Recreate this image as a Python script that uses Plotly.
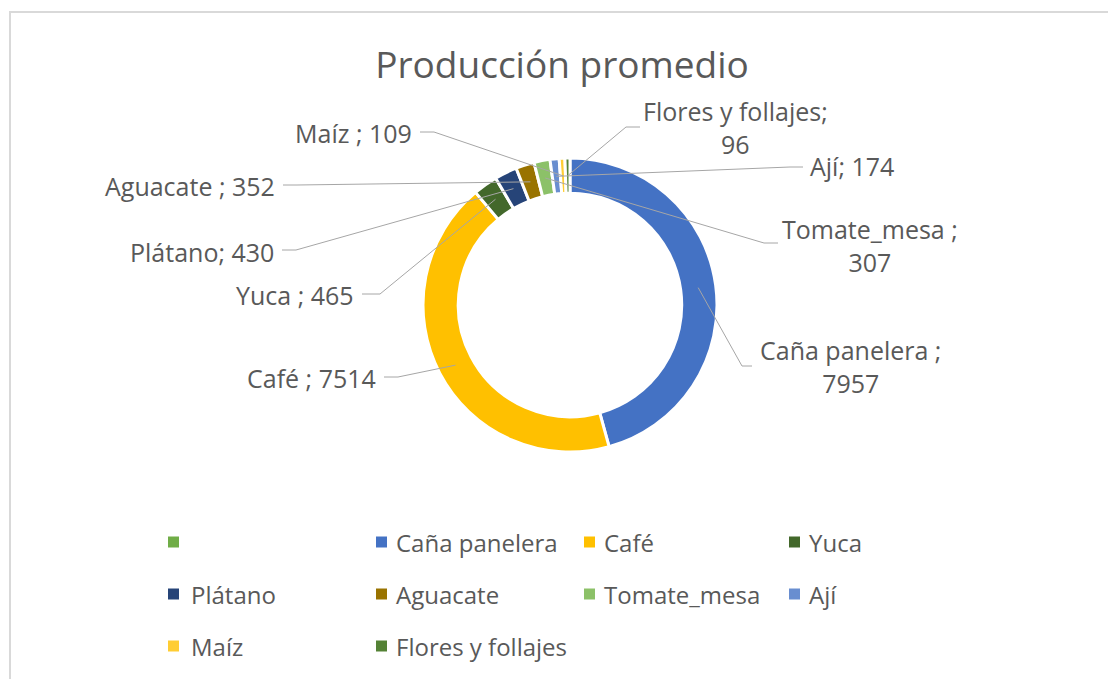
import math
import plotly.graph_objects as go

categories = ["\u00a0", "Caña panelera ", "Café ", "Yuca ", "Plátano", "Aguacate ",
              "Tomate_mesa ", "Ají", "Maíz ", "Flores y follajes"]
values = [0, 7957, 7514, 465, 430, 352, 307, 174, 109, 96]
colors = ["#70AD47", "#4472C4", "#FFC000", "#43682B", "#264478", "#997300",
          "#8CC168", "#698ED0", "#FFCD33", "#548235"]

W, H = 1116, 679
OFF = 8  # default body margin of the html page
FONT = "Open Sans"
GREY = "#595959"


def px(x):
    return (x - OFF) / W


def py(y):
    return 1 - (y - OFF) / H


# donut geometry in (screen) pixels
CX, CY, R_OUT, HOLE = 570, 305, 147, 0.76
R_MID = R_OUT * (1 + HOLE) / 2

# where each data label sits: text x, y, anchor, wrapped?, leader start + elbow
label_layout = {
    1: (850, 366, "center", True, [(752, 366), (742, 366)]),
    2: (378, 378, "right", False, [(384, 377), (398, 377)]),
    3: (356, 295, "right", False, [(362, 294), (380, 294)]),
    4: (276, 252, "right", False, [(282, 250), (296, 250)]),
    5: (277, 186, "right", False, [(283, 185), (297, 185)]),
    6: (870, 245, "center", True, [(778, 243), (764, 243)]),
    7: (808, 166, "left", False, [(803, 167), (790, 167)]),
    8: (414, 133, "right", False, [(420, 132), (434, 132)]),
    9: (735, 127, "center", True, [(640, 127), (626, 127)]),
}

fig = go.Figure()
fig.add_trace(go.Pie(
    labels=categories, values=values, hole=HOLE, sort=False,
    direction="clockwise", rotation=0, textinfo="none", hoverinfo="none",
    marker=dict(colors=colors, line=dict(color="white", width=3)),
    domain=dict(x=[px(CX - R_OUT), px(CX + R_OUT)], y=[py(CY + R_OUT), py(CY - R_OUT)]),
    showlegend=False,
))

total = sum(values)
annotations = []
shapes = []
cum = 0
for i, (cat, val) in enumerate(zip(categories, values)):
    mid = (cum + val / 2) / total * 2 * math.pi
    cum += val
    if i not in label_layout:
        continue
    tx, ty, anchor, wrap, lead = label_layout[i]
    sx = CX + R_MID * math.sin(mid)
    sy = CY - R_MID * math.cos(mid)
    text = f"{cat};" + ("<br>" if wrap else " ") + f"{val}"
    annotations.append(dict(x=px(tx), y=py(ty), xref="paper", yref="paper", text=text,
                            showarrow=False, xanchor=anchor, yanchor="middle", align="center",
                            font=dict(family=FONT, size=25, color=GREY)))
    pts = lead + [(sx, sy)]
    path = "M " + " L ".join(f"{px(x)},{py(y)}" for x, y in pts)
    shapes.append(dict(type="path", path=path, xref="paper", yref="paper",
                       line=dict(color="#A6A6A6", width=1)))

# legend grid (3 rows x 4 columns) like the Excel legend
col_sq = [168, 376, 584, 789]
col_tx = [189, 394, 602, 807]
rows = [542, 594, 646]
for i, (cat, col) in enumerate(zip(categories, colors)):
    r, c = divmod(i, 4)
    shapes.append(dict(type="rect", xref="paper", yref="paper",
                       x0=px(col_sq[c]), x1=px(col_sq[c] + 11),
                       y0=py(rows[r] + 5.5), y1=py(rows[r] - 5.5),
                       fillcolor=col, line=dict(width=0)))
    annotations.append(dict(x=px(col_tx[c]), y=py(rows[r]), xref="paper", yref="paper",
                            text=cat.strip() or " ", showarrow=False, xanchor="left",
                            yanchor="middle", font=dict(family=FONT, size=24, color=GREY)))

# chart-area border
shapes.append(dict(type="rect", xref="paper", yref="paper", x0=px(10), x1=px(1140),
                   y0=py(700), y1=py(12), line=dict(color="#D9D9D9", width=2), layer="below"))

fig.update_layout(
    width=W, height=H,
    margin=dict(l=0, r=0, t=0, b=0),
    paper_bgcolor="white", plot_bgcolor="white",
    title=dict(text="Producción promedio", x=px(562), y=py(65), xanchor="center",
               yanchor="middle", font=dict(family=FONT, size=37, color=GREY)),
    annotations=annotations,
    shapes=shapes,
)

fig.write_html("out.html")
